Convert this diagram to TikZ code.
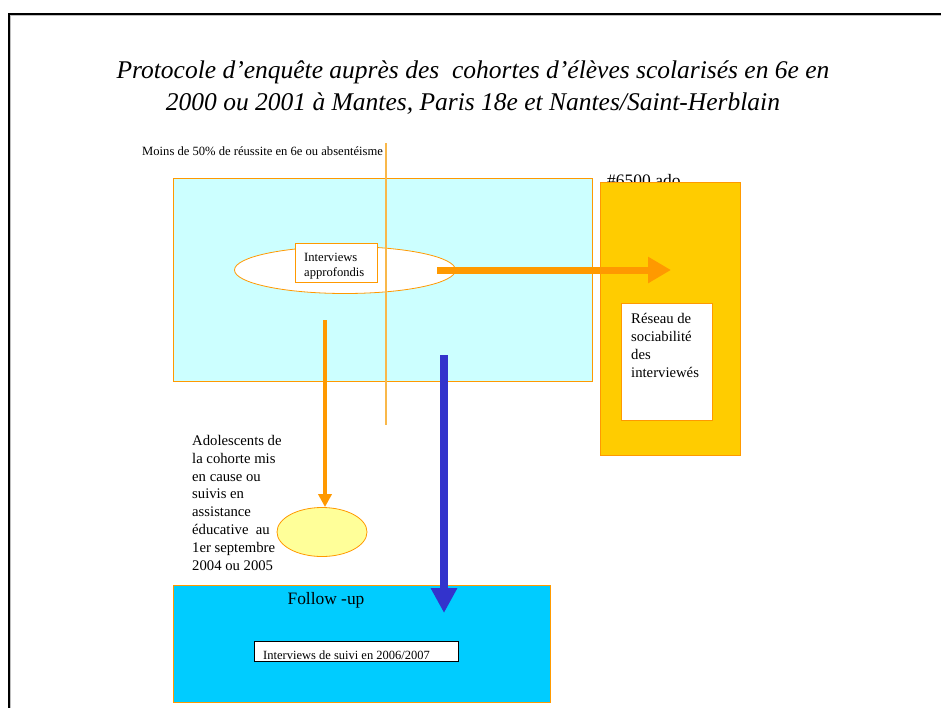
\documentclass[tikz,border=0pt]{standalone}
\usepackage{fontspec}
\setmainfont{Liberation Serif}
\usetikzlibrary{arrows.meta,shapes.geometric}
\definecolor{lcyan}{HTML}{CCFFFF}
\definecolor{ogline}{HTML}{FF9900}
\definecolor{lightog}{HTML}{F9B84A}
\definecolor{gold}{HTML}{FFCC00}
\definecolor{pyellow}{HTML}{FFFF99}
\definecolor{skyb}{HTML}{00CCFF}
\definecolor{arrblue}{HTML}{3333CC}
\tikzset{
  box/.style={draw=ogline, line width=0.8pt, inner sep=0pt, anchor=north west},
  txt/.style={inner sep=0pt, anchor=base west, align=left},
  bigorange/.style={draw=ogline, line width=7pt, -{Triangle[length=23pt,width=25pt]}},
  smallorange/.style={draw=ogline, line width=4pt, -{Triangle[length=13pt,width=13pt]}},
  bluearrow/.style={draw=arrblue, line width=8pt, -{Triangle[length=25pt,width=25pt]}},
}
\begin{document}
\begin{tikzpicture}[x=1pt,y=-1pt]
\useasboundingbox (0,0) rectangle (941,707);
\begin{scope}
\clip (0,0) rectangle (941,707);
\draw[gray!50, line width=3pt] (9,714) -- (9,14) -- (950,14);
\draw[black, line width=1.8pt] (9,714) -- (9,14) -- (950,14);
\end{scope}
% title (anchor = baseline of last line)
\node[inner sep=0pt, align=center, font=\fontsize{25.5}{32}\selectfont\itshape, anchor=base] (title) at (473,110)
 {Protocole d’enquête auprès des \ cohortes d’élèves scolarisés en 6e en\\2000 ou 2001 à Mantes, Paris 18e et Nantes/Saint-Herblain};
% label top
\node[txt, font=\fontsize{12.6}{14}\selectfont] (moins) at (142,155) {Moins de 50\% de réussite en 6e ou absentéisme};
% cyan box
\node[box, fill=lcyan, minimum width=419pt, minimum height=203pt] (cyan) at (173,178) {};
% ellipse
\node[draw=ogline, line width=0.8pt, fill=white, ellipse, minimum width=221pt, minimum height=47pt, inner sep=0pt] (ell) at (345,270) {};
\node[box, fill=white, minimum width=82pt, minimum height=39pt] (intbox) at (295,243) {};
\node[txt, font=\fontsize{12.6}{15}\selectfont] (inttxt) at (304,276) {Interviews\\approfondis};
% vertical line
\coordinate (vtop) at (386,143);
\coordinate (vbot) at (386,425);
\draw[lightog, line width=1.3pt] (vtop) -- (vbot);
% ado text and yellow box
\node[txt, font=\fontsize{17.5}{20}\selectfont] (ado) at (607,186) {\#6500 ado};
\node[box, fill=gold, minimum width=140pt, minimum height=273pt] (gold) at (600,182) {};
\node[box, fill=white, minimum width=91pt, minimum height=117pt] (reseau) at (621,303) {};
\node[txt, font=\fontsize{14.7}{17.7}\selectfont] (reseautxt) at (631,377) {Réseau de\\sociabilité\\des\\interviewés};
% orange horizontal arrow
\coordinate (oh1) at (437,270);
\coordinate (oh2) at (671,270);
\draw[bigorange] (oh1) -- (oh2);
% adolescents
\node[txt, font=\fontsize{14.7}{17.9}\selectfont] (ados) at (192,570.5) {Adolescents de\\la cohorte mis\\en cause ou\\suivis en\\assistance\\éducative \ au\\1er septembre\\2004 ou 2005};
\node[draw=ogline, line width=0.8pt, fill=pyellow, ellipse, minimum width=90pt, minimum height=49pt, inner sep=0pt] (yell) at (322,532) {};
\coordinate (od1) at (325,320);
\draw[smallorange] (od1) -- (od1 |- yell.north);
% follow-up
\node[box, fill=skyb, minimum width=377pt, minimum height=117pt] (follow) at (173,585) {};
\node[inner sep=0pt, anchor=base, font=\fontsize{17.4}{19}\selectfont] (followtxt) at (326,604) {Follow -up};
\node[draw=black, line width=0.8pt, fill=white, inner sep=0pt, anchor=north west, minimum width=204pt, minimum height=20pt] (suivi) at (254,641) {};
\node[txt, font=\fontsize{12.5}{14}\selectfont] (suivitxt) at (263,659.5) {Interviews de suivi en 2006/2007};
% blue arrow
\coordinate (b1) at (444,355);
\coordinate (b2) at (444,613);
\draw[bluearrow] (b1) -- (b2);
\end{tikzpicture}
\end{document}
